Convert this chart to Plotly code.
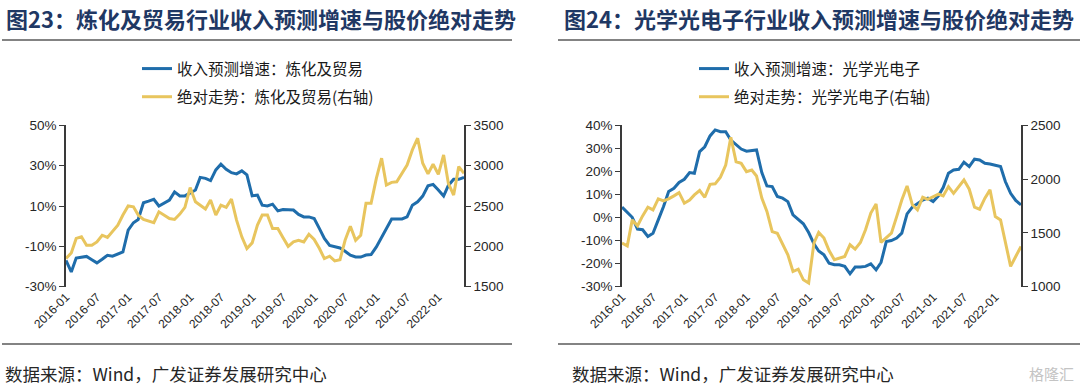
import plotly.graph_objects as go

# ---------------- data ----------------
months = [f"{y}-{m:02d}" for y in range(2016, 2023) for m in range(1, 13)][:78]  # 2016-01 .. 2022-06
tick_months = ["2016-01", "2016-07", "2017-01", "2017-07", "2018-01", "2018-07", "2019-01",
               "2019-07", "2020-01", "2020-07", "2021-01", "2021-07", "2022-01"]

# 图23 炼化及贸易
refining_growth = [-17, -22.7, -15.8, -15.3, -15, -16.6, -18.2, -16.4, -14.4, -14.9, -13.9, -12.8,
                   -2, 1.7, 3.3, 11.6, 12.4, 13.3, 10, 11.3, 12.9, 17, 15, 15,
                   16.6, 17.9, 24.2, 23.7, 22.6, 27.9, 30.7, 28.2, 26.5, 25.9, 27.4, 25.4,
                   15, 15.4, 10.4, 10, 10.9, 7.6, 8.3, 8, 8, 5.8, 4.6, 4.6,
                   3.8, -1.2, -6.1, -9.5, -10, -10.8, -12.4, -14.4, -15.3, -15.3, -14.3, -14.1,
                   -10.3, -5.3, -0.8, 3.5, 3.5, 3.6, 4.6, 10.4, 12.1, 14.9, 20, 20.7,
                   17.9, 14.9, 20.2, 23.2, 23.2, 24.2]
refining_index = [1850, 1918, 2098, 2118, 2013, 2013, 2055, 2138, 2110, 2180, 2263, 2388,
                  2500, 2490, 2388, 2333, 2318, 2293, 2428, 2388, 2345, 2333, 2400, 2483,
                  2728, 2553, 2510, 2463, 2573, 2388, 2510, 2483, 2585, 2325, 2118, 1973,
                  2043, 2263, 2388, 2388, 2220, 2220, 2110, 2000, 2055, 2075, 2055, 2150,
                  2085, 1973, 1848, 1878, 1820, 1835, 2075, 2250, 2075, 2138, 2533, 2533,
                  2843, 3093, 2760, 2793, 2800, 2905, 3008, 3195, 3340, 3030, 2898, 3018,
                  2893, 3133, 2780, 2635, 2988, 2905]

# 图24 光学光电子
optics_growth = [4.5, 2.2, 0.1, -5, -5.3, -8.2, -6.8, -1, 4.8, 11.3, 12.7, 15.2,
                 16.6, 19.5, 19.2, 28.6, 30.7, 35.4, 38, 37.2, 37.2, 33.6, 31.5, 29.7,
                 28.8, 28.9, 29.3, 19.5, 13.7, 13.4, 9.1, 8.4, 6.9, 1.2, -0.6, -2.7,
                 -6.5, -11.4, -14.5, -16.2, -19.8, -20.5, -20.5, -21.2, -24.4, -21.5, -21.5, -21.2,
                 -20.1, -22.7, -19.5, -10.4, -10, -8.9, -6.8, 1.6, 4.5, 5.9, 7.6, 8.4,
                 6.9, 9.4, 13, 19.2, 20.6, 20.9, 24, 22.1, 25.3, 25, 23.5, 23.2,
                 22.8, 22.1, 15.6, 10.5, 7.4, 5.5]
optics_index = [1405, 1379, 1621, 1566, 1658, 1739, 1714, 1816, 1797, 1816, 1844, 1874,
                1776, 1806, 1853, 1894, 1831, 1951, 1956, 2018, 2131, 2389, 2161, 2146,
                2069, 2084, 2029, 1823, 1699, 1512, 1497, 1390, 1296, 1141, 1163, 1064,
                1034, 1405, 1504, 1452, 1336, 1251, 1266, 1281, 1390, 1349, 1411, 1529,
                1684, 1769, 1411, 1452, 1497, 1651, 1806, 1936, 1761, 1714, 1831, 1812,
                1838, 1861, 1844, 1930, 1868, 1930, 1992, 1906, 1739, 1720, 1823, 1900,
                1651, 1621, 1420, 1189, 1281, 1373]

left_pct_ticks = [-30, -10, 10, 30, 50]
left_pct_text = ["-30%", "-10%", "10%", "30%", "50%"]
left_idx_ticks = [1500, 2000, 2500, 3000, 3500]
right_pct_ticks = [-30, -20, -10, 0, 10, 20, 30, 40]
right_pct_text = ["-30%", "-20%", "-10%", "0%", "10%", "20%", "30%", "40%"]
right_idx_ticks = [1000, 1500, 2000, 2500]

titles = ["图23：炼化及贸易行业收入预测增速与股价绝对走势", "图24：光学光电子行业收入预测增速与股价绝对走势"]
legend_names = [["收入预测增速：炼化及贸易", "绝对走势：炼化及贸易(右轴)"],
                ["收入预测增速：光学光电子", "绝对走势：光学光电子(右轴)"]]
source_text = "数据来源：Wind，广发证券发展研究中心"

# ---------------- style ----------------
W, H = 1080, 387
BLUE = "#1f6dab"
GOLD = "#e8c55e"
AXC = "#3a3a3a"
TITLE_C = "#1f3864"
CJK = "Noto Sans CJK SC"
LAT = "Liberation Sans"

def px(x):
    return x / W

def py(y):
    return 1 - y / H

Y_DOM = [py(286.7), py(125.3)]
LX = [px(66), px(464)]
RX = [px(622), px(1021)]

fig = go.Figure()

fig.add_trace(go.Scatter(x=months, y=refining_growth, name=legend_names[0][0], mode="lines",
                         line=dict(color=BLUE, width=3), xaxis="x", yaxis="y",
                         legend="legend", legendgroup="a"))
fig.add_trace(go.Scatter(x=months, y=refining_index, name=legend_names[0][1], mode="lines",
                         line=dict(color=GOLD, width=3), xaxis="x", yaxis="y2",
                         legend="legend", legendgroup="b"))
fig.add_trace(go.Scatter(x=months, y=optics_growth, name=legend_names[1][0], mode="lines",
                         line=dict(color=BLUE, width=3), xaxis="x3", yaxis="y3",
                         legend="legend2", legendgroup="c"))
fig.add_trace(go.Scatter(x=months, y=optics_index, name=legend_names[1][1], mode="lines",
                         line=dict(color=GOLD, width=3), xaxis="x3", yaxis="y4",
                         legend="legend2", legendgroup="d"))

xrange = [months[0] + "-01", months[-1] + "-01"]
tickfont = dict(family=LAT, size=13.5, color="#262626")
datefont = dict(family=LAT, size=12, color="#262626")

def xlab(domain, anchor):
    return dict(domain=domain, anchor=anchor, type="date", range=xrange,
                tickvals=[m + "-01" for m in tick_months], ticktext=tick_months,
                tickangle=-45, tickfont=datefont, showline=False, ticks="",
                showgrid=False, zeroline=False, fixedrange=True, automargin=False)

def xzero(overlay, pos):
    return dict(overlaying=overlay, anchor="free", position=pos, type="date", range=xrange,
                tickvals=[m + "-01" for m in tick_months], showticklabels=False,
                showline=True, linecolor="#111111", linewidth=1.5,
                ticks="outside", ticklen=4, tickcolor="#111111", tickwidth=1.2,
                showgrid=False, zeroline=False, fixedrange=True, automargin=False)

def yax(rng, tv, tt, side, anchor, overlay=None):
    d = dict(range=rng, tickvals=tv, ticktext=tt, side=side, anchor=anchor,
             showline=True, linecolor=AXC, linewidth=1.5, ticks="outside", ticklen=5,
             tickcolor=AXC, tickwidth=1.2, showgrid=False, zeroline=False,
             tickfont=tickfont, fixedrange=True, automargin=False)
    if overlay:
        d["overlaying"] = overlay
    else:
        d["domain"] = Y_DOM
    return d

zero_left = Y_DOM[0] + (0 - (-30)) / 80 * (Y_DOM[1] - Y_DOM[0])
zero_right = Y_DOM[0] + (0 - (-30)) / 70 * (Y_DOM[1] - Y_DOM[0])

fig.update_layout(
    template="none",
    width=W, height=H, margin=dict(l=0, r=0, t=0, b=0, autoexpand=False),
    paper_bgcolor="white", plot_bgcolor="rgba(0,0,0,0)",
    xaxis=xlab(LX, "y"),
    xaxis2=xzero("x", zero_left),
    xaxis3=xlab(RX, "y3"),
    xaxis4=xzero("x3", zero_right),
    yaxis=yax([-30, 50], left_pct_ticks, left_pct_text, "left", "x"),
    yaxis2=yax([1500, 3500], left_idx_ticks, [str(v) for v in left_idx_ticks], "right", "x", "y"),
    yaxis3=yax([-30, 40], right_pct_ticks, right_pct_text, "left", "x3"),
    yaxis4=yax([1000, 2500], right_idx_ticks, [str(v) for v in right_idx_ticks], "right", "x3", "y3"),
    legend=dict(x=px(137), y=py(52), xanchor="left", yanchor="top", bgcolor="rgba(0,0,0,0)",
                font=dict(family=CJK, size=15.5, color="#1a1a1a"), tracegroupgap=5,
                traceorder="grouped", itemwidth=30),
    legend2=dict(x=px(694), y=py(52), xanchor="left", yanchor="top", bgcolor="rgba(0,0,0,0)",
                 font=dict(family=CJK, size=15.5, color="#1a1a1a"), tracegroupgap=5,
                 traceorder="grouped", itemwidth=30),
    showlegend=True,
)

# titles
for txt, x0 in zip(titles, [4, 562]):
    fig.add_annotation(text="<b>" + txt + "</b>", x=px(x0), y=py(18), xref="paper", yref="paper",
                       xanchor="left", yanchor="middle", showarrow=False,
                       font=dict(family=CJK, size=22, color=TITLE_C))
# sources
for x0 in [3, 570]:
    fig.add_annotation(text=source_text, x=px(x0), y=py(373), xref="paper", yref="paper",
                       xanchor="left", yanchor="middle", showarrow=False,
                       font=dict(family=CJK, size=17.5, color="#262626"))
# watermark
fig.add_annotation(text="格隆汇", x=px(1076), y=py(373), xref="paper", yref="paper",
                   xanchor="right", yanchor="middle", showarrow=False,
                   font=dict(family=CJK, size=15, color="#c4c4c4"))

# separator lines
for (x0, x1) in [(2, 512), (558, 1080)]:
    for yy in [40, 344]:
        fig.add_shape(type="line", xref="paper", yref="paper", x0=px(x0), x1=px(x1),
                      y0=py(yy), y1=py(yy), line=dict(color="#5a5a5a", width=1.5))

fig.write_html("out.html", config={"displayModeBar": False},
               post_script="document.body.style.margin='0';document.body.style.padding='0';"
                           "document.body.style.overflow='hidden';")
